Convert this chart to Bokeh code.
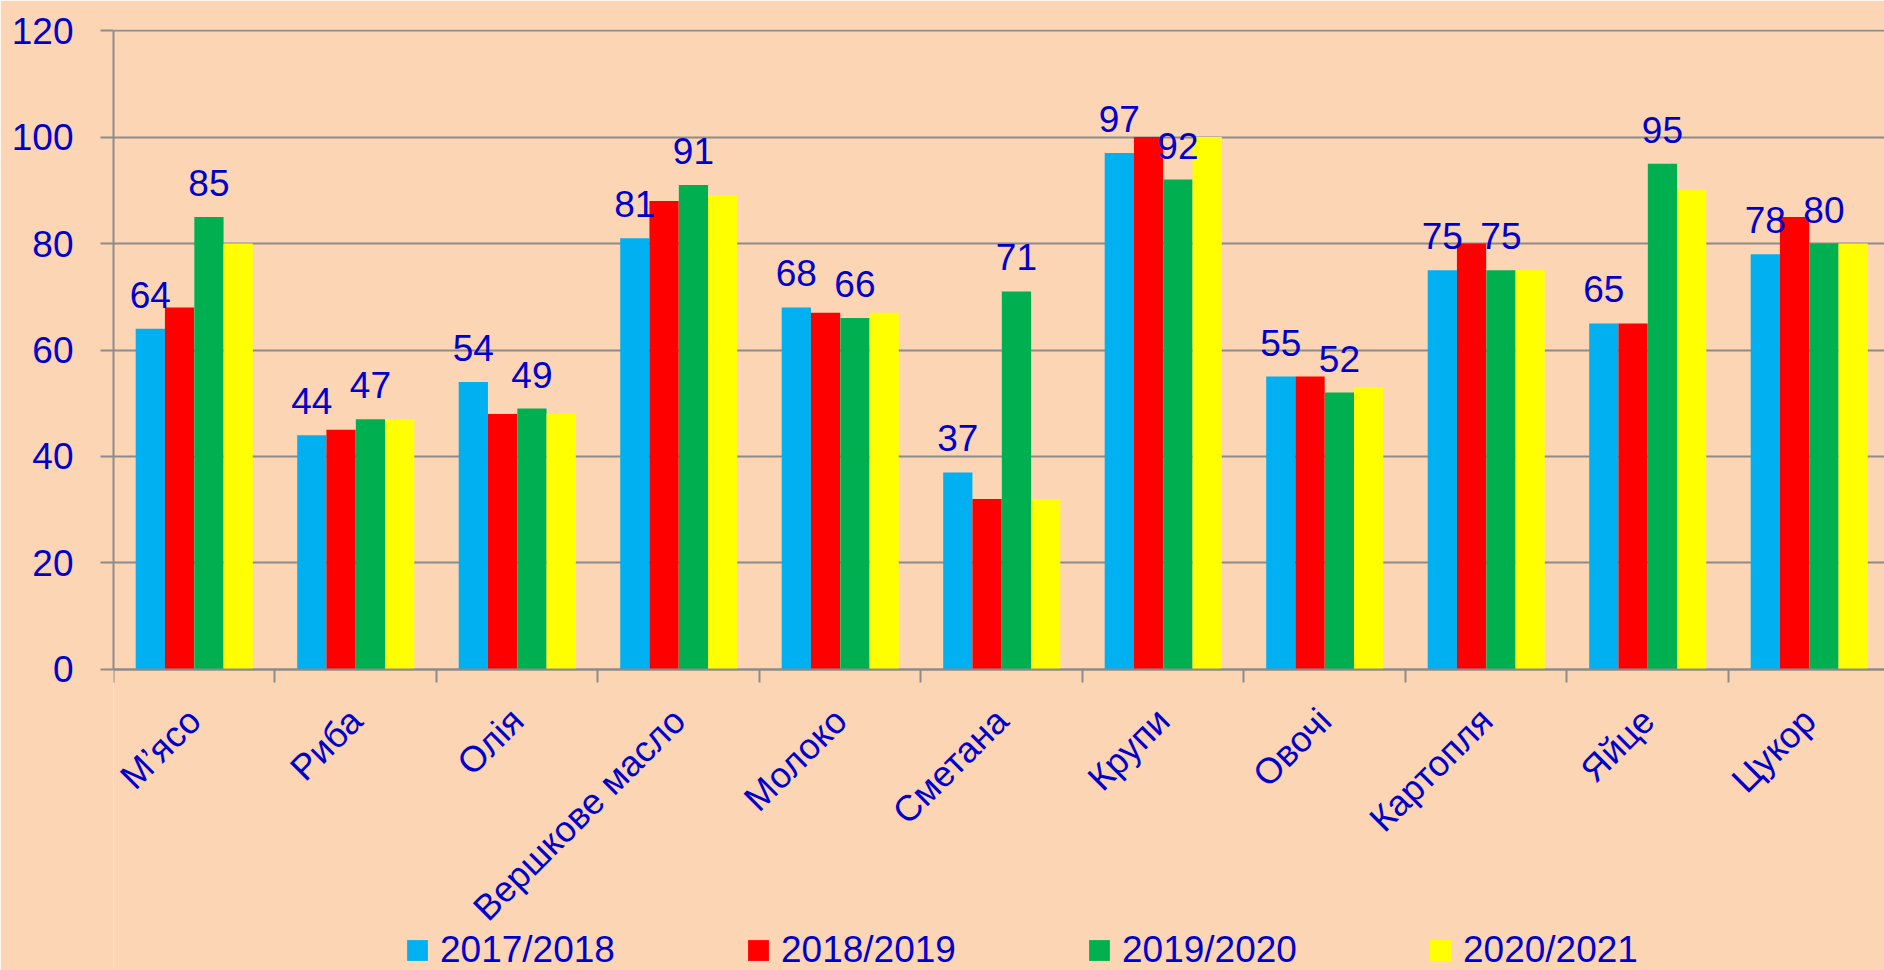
import math
from bokeh.plotting import figure
from bokeh.models import (ColumnDataSource, Range1d, FixedTicker, LabelSet,
                          Legend, LegendItem)
from bokeh.core.properties import value
from bokeh.transform import dodge
from bokeh.embed import file_html
from bokeh.resources import INLINE

categories = ["М’ясо", "Риба", "Олія", "Вершкове масло", "Молоко", "Сметана",
              "Крупи", "Овочі", "Картопля", "Яйце", "Цукор"]
series_names = ["2017/2018", "2018/2019", "2019/2020", "2020/2021"]
v2017 = [64, 44, 54, 81, 68, 37, 97, 55, 75, 65, 78]
v2018 = [68, 45, 48, 88, 67, 32, 100, 55, 80, 65, 85]
v2019 = [85, 47, 49, 91, 66, 71, 92, 52, 75, 95, 80]
v2020 = [80, 47, 48, 89, 67, 32, 100, 53, 75, 90, 80]
y_ticks = [0, 20, 40, 60, 80, 100, 120]

colors = ["#00B0F0", "#FF0000", "#00B050", "#FFFF00"]
FONT = "Liberation Sans"
TXT = "#0000CC"
GRID = "#8C8C8C"
BG = "#FCD5B5"

n = len(categories)
center = [i + 0.5 for i in range(n)]
boundaries = [float(i) for i in range(n + 1)]

src = ColumnDataSource(dict(
    center=center,
    v2017=v2017, v2018=v2018, v2019=v2019, v2020=v2020,
    t2017=[str(v) for v in v2017], t2019=[str(v) for v in v2019],
))

# frame spans down to the bottom of the page so the legend is not clipped;
# value 0 sits at 669 px, 120 at 30 px
p = figure(width=1884, height=970,
           x_range=Range1d(0, 10.966), y_range=Range1d(-56.53, 120.19),
           output_backend="svg", toolbar_location=None,
           min_border_left=113, min_border_right=0,
           min_border_top=29, min_border_bottom=0,
           background_fill_color=BG, border_fill_color=BG,
           outline_line_color=None)

offsets = [-0.272, -0.091, 0.091, 0.272]
cols = ["v2017", "v2018", "v2019", "v2020"]
bar_w = 0.181
items = []
for name, col, c, off in zip(series_names, cols, colors, offsets):
    r = p.vbar(x=dodge("center", off, range=p.x_range), top=col, width=bar_w,
               bottom=0, source=src, fill_color=c, line_color=None)
    items.append(LegendItem(label=name, renderers=[r]))

for col, tcol, off in [("v2017", "t2017", offsets[0]), ("v2019", "t2019", offsets[2])]:
    lab = LabelSet(x=dodge("center", off, range=p.x_range), y=col, text=tcol,
                   source=src, y_offset=21, text_align="center",
                   text_baseline="alphabetic", text_font=value(FONT),
                   text_font_size="37px", text_color=TXT)
    p.add_layout(lab)

# x axis, drawn at value 0
xa = p.xaxis[0]
xa.fixed_location = 0
xa.ticker = FixedTicker(ticks=center, minor_ticks=boundaries)
xa.major_label_overrides = {c: lab for c, lab in zip(center, categories)}
xa.major_tick_out = 0
xa.major_tick_in = 0
xa.minor_tick_out = 13
xa.minor_tick_in = 0
xa.minor_tick_line_color = GRID
xa.minor_tick_line_width = 2
xa.axis_line_color = GRID
xa.axis_line_width = 2
xa.major_label_orientation = math.pi / 4
xa.major_label_standoff = 32
xa.major_label_text_font = FONT
xa.major_label_text_font_size = "36px"
xa.major_label_text_color = TXT

ya = p.yaxis[0]
ya.ticker = FixedTicker(ticks=y_ticks)
ya.bounds = (0, 120)
ya.major_tick_out = 13
ya.major_tick_in = 0
ya.minor_tick_out = 0
ya.minor_tick_in = 0
ya.major_tick_line_color = GRID
ya.major_tick_line_width = 2
ya.axis_line_color = GRID
ya.axis_line_width = 2
ya.major_label_standoff = 27
ya.major_label_text_font = FONT
ya.major_label_text_font_size = "37px"
ya.major_label_text_color = TXT

p.xgrid.grid_line_color = None
p.ygrid.grid_line_color = GRID
p.ygrid.grid_line_width = 2

legend = Legend(items=items, orientation="horizontal", location=(291, -1),
                glyph_width=26, glyph_height=26, label_standoff=10,
                label_width=305, spacing=0, padding=0, margin=0,
                border_line_color=None, background_fill_alpha=0,
                label_text_font=FONT, label_text_font_size="37px",
                label_text_color=TXT)
p.add_layout(legend, "center")

open("out.html", "w").write(file_html(p, INLINE))
